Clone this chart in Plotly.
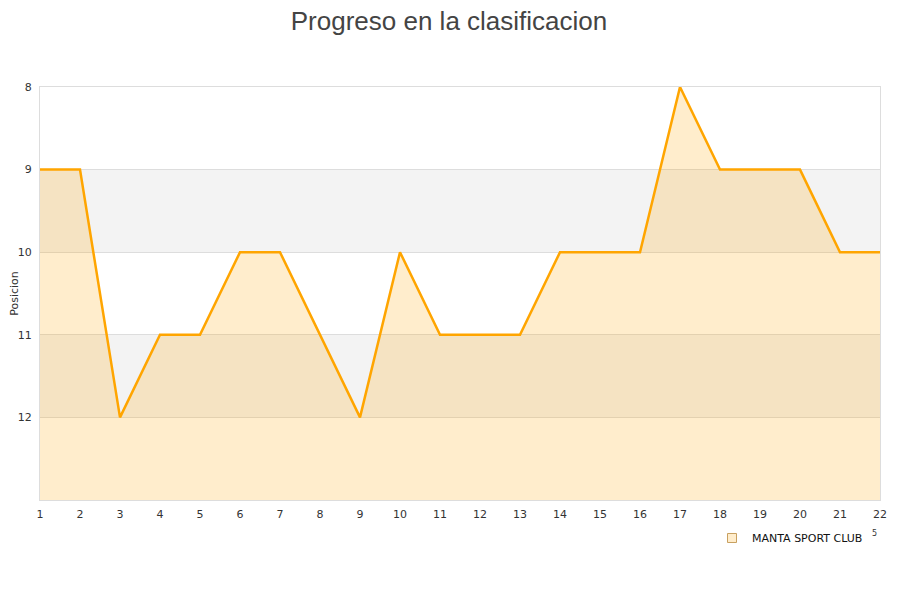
import plotly.graph_objects as go

jornadas = list(range(1, 23))
posiciones = [9, 9, 12, 11, 11, 10, 10, 11, 12, 10, 11, 11, 11, 10, 10, 10, 8, 9, 9, 9, 10, 10]
equipo = "MANTA SPORT CLUB"
y_ticks = [8, 9, 10, 11, 12]

fig = go.Figure()

# baseline for fill
fig.add_trace(go.Scatter(x=jornadas, y=[13] * len(jornadas), mode="lines",
                         line=dict(width=0), hoverinfo="skip", showlegend=False))
fig.add_trace(go.Scatter(x=jornadas, y=posiciones, mode="lines", fill="tonexty",
                         fillcolor="rgba(255,165,0,0.2)",
                         line=dict(color="#ffa500", width=2.5), showlegend=False))
# legend entry
fig.add_trace(go.Scatter(x=[None], y=[None], mode="markers", name=equipo,
                         marker=dict(symbol="square", size=9, color="#ffedcc",
                                     line=dict(color="#c8a060", width=1))))

for lo, hi in [(9, 10), (11, 12)]:
    fig.add_shape(type="rect", xref="paper", x0=0, x1=1, yref="y", y0=lo, y1=hi,
                  fillcolor="#f3f3f3", line=dict(width=0), layer="below")

fig.update_layout(
    width=900, height=600,
    paper_bgcolor="white", plot_bgcolor="white",
    margin=dict(l=32, r=28, t=79, b=108, autoexpand=False),
    title=dict(text="Progreso en la clasificacion", x=0.49, xanchor="center",
               y=0.994, yanchor="top", pad=dict(t=0, b=0),
               font=dict(family="Liberation Sans, Arial", size=26, color="#444")),
    font=dict(family="DejaVu Sans", size=11, color="#333"),
    xaxis=dict(range=[1, 22], tickmode="array", tickvals=jornadas,
               showgrid=False, zeroline=False, showline=True, linecolor="#ddd",
               mirror=True, ticks="outside", ticklen=4, tickcolor="rgba(0,0,0,0)",
               tickfont=dict(size=11, color="#333")),
    yaxis=dict(range=[13, 8], tickmode="array", tickvals=y_ticks,
               showgrid=True, gridcolor="#dddddd", zeroline=False,
               showline=True, linecolor="#ddd", mirror=True,
               ticks="outside", ticklen=5, tickcolor="rgba(0,0,0,0)",
               title=dict(text="Posicion", font=dict(size=11, color="#333"), standoff=2),
               tickfont=dict(size=11, color="#333")),
    showlegend=True,
    legend=dict(x=0.800, y=-0.092, xanchor="left", yanchor="middle",
                bgcolor="rgba(0,0,0,0)", font=dict(size=11, color="#111")),
    annotations=[dict(text="5", xref="paper", yref="paper", x=0.999, y=-0.096,
                      showarrow=False, font=dict(size=8, color="#333"))],
)

fig.write_html("out.html")
